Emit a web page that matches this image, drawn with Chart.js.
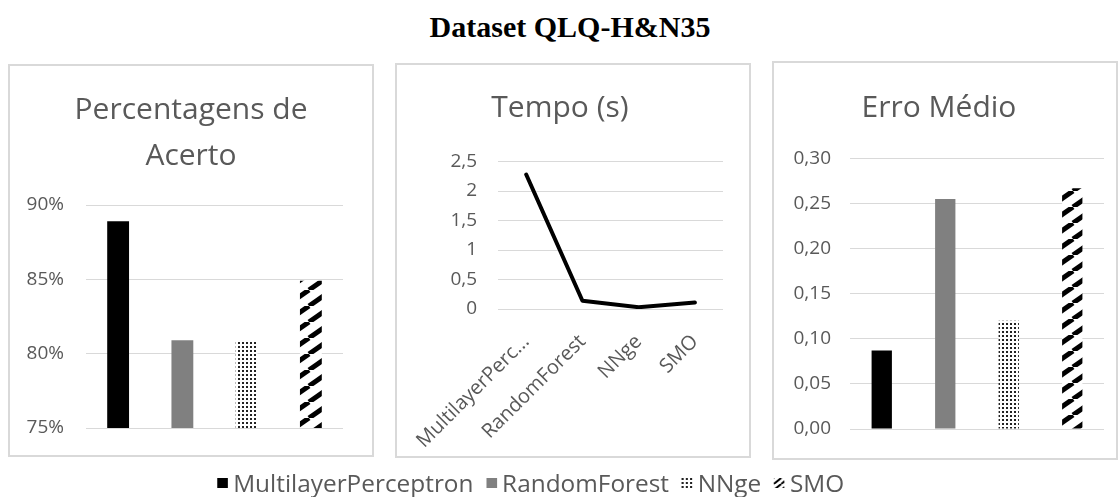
<!DOCTYPE html>
<html>
<head>
<meta charset="utf-8">
<script src="https://cdn.jsdelivr.net/npm/chart.js@4.4.1/dist/chart.umd.min.js"></script>
<style>
  html, body { margin: 0; padding: 0; background: #fff; }
  body { width: 1120px; height: 497px; position: relative; overflow: hidden; }
  #title {
    position: absolute; left: 0; top: 10px; width: 1140px; text-align: center;
    font-family: "Liberation Serif", serif; font-weight: bold; font-size: 30px; color: #000;
  }
  .panel { position: absolute; border: 2px solid #d9d9d9; }
  .panel canvas { display: block; }
  #legend {
    position: absolute; left: 0; top: 468px; width: 1062px; display: flex; justify-content: center;
  }
  #legend .row {
    display: flex; transform: scaleX(1.06); transform-origin: center;
    font-family: "Open Sans", sans-serif; font-size: 23px; color: #595959; line-height: 30px;
  }
  #legend span.item { display: flex; align-items: center; margin: 0 6px; }
  #legend canvas { margin-right: 5px; }
</style>
</head>
<body>
<div id="title">Dataset QLQ-H&amp;N35</div>
<div class="panel" style="left:8px;top:64px"><canvas id="c1" width="362" height="389"></canvas></div>
<div class="panel" style="left:395px;top:63px"><canvas id="c2" width="352" height="391"></canvas></div>
<div class="panel" style="left:772px;top:61px"><canvas id="c3" width="342" height="395"></canvas></div>
<div id="legend"><div class="row"></div></div>
<script>
const categories = ["MultilayerPerceptron", "RandomForest", "NNge", "SMO"];
const accuracy = [88.9, 80.9, 80.9, 84.9];
const timeSec = [2.28, 0.14, 0.03, 0.11];
const meanError = [0.087, 0.255, 0.12, 0.267];
const accTicks = [75, 80, 85, 90];
const timeTicks = [0, 0.5, 1, 1.5, 2, 2.5];
const errTicks = [0, 0.05, 0.1, 0.15, 0.2, 0.25, 0.3];

const FONT = "'Open Sans', sans-serif";
const TXT = "#595959";
const GRID = "#d9d9d9";

function dotPattern(ctx) {
  const c = document.createElement("canvas");
  c.width = 4; c.height = 4;
  const g = c.getContext("2d");
  g.fillStyle = "#fff"; g.fillRect(0, 0, 4, 4);
  g.fillStyle = "#222"; g.fillRect(0, 0, 2, 2);
  return ctx.createPattern(c, "repeat");
}

function stripePattern(ctx, w = 23, h = 16, lw = 5) {
  const c = document.createElement("canvas");
  c.width = w; c.height = h;
  const g = c.getContext("2d");
  g.fillStyle = "#fff"; g.fillRect(0, 0, w, h);
  g.strokeStyle = "#000"; g.lineWidth = lw;
  for (const dx of [-w, 0, w]) {
    g.beginPath(); g.moveTo(dx, h); g.lineTo(dx + w, 0); g.stroke();
  }
  return ctx.createPattern(c, "repeat");
}

function fills(ctx) {
  return ["#000000", "#808080", dotPattern(ctx), stripePattern(ctx)];
}

function yAxis(ticks, width, pad, fmt) {
  return {
    min: ticks[0], max: ticks[ticks.length - 1],
    afterBuildTicks: s => { s.ticks = ticks.map(v => ({ value: v })); },
    // fixed width, and no extra room for the end labels
    afterFit: s => { s.width = width; s.paddingTop = 0; s.paddingBottom = 0; },
    grid: { color: GRID, drawTicks: false },
    border: { display: false },
    ticks: { color: TXT, font: { family: FONT, size: 19 }, padding: pad, callback: fmt }
  };
}

// empty axes that only reserve room beside / under the plot
function spacerX(height) {
  return {
    afterFit: s => { s.height = height; },
    grid: { display: false }, border: { display: false }, ticks: { display: false }
  };
}
function spacerRight(width) {
  return {
    type: "linear", position: "right",
    afterFit: s => { s.width = width; },
    grid: { display: false }, border: { display: false }, ticks: { display: false }
  };
}

function title(text, top, bottom) {
  return {
    display: true, text, color: TXT,
    font: { family: FONT, size: 30, weight: "normal", lineHeight: 1.55 },
    padding: { top, bottom }
  };
}

Chart.defaults.animation = false;
Chart.defaults.responsive = false;

// Percentagens de Acerto
const ctx1 = document.getElementById("c1").getContext("2d");
new Chart(ctx1, {
  type: "bar",
  data: {
    labels: categories,
    datasets: [{ data: accuracy, backgroundColor: fills(ctx1), barPercentage: 0.34, categoryPercentage: 1 }]
  },
  options: {
    layout: { padding: 0 },
    plugins: { legend: { display: false }, tooltip: { enabled: false }, title: title(["Percentagens de", "Acerto"], 21, 25) },
    scales: {
      x: spacerX(27),
      y: yAxis(accTicks, 76, 22, v => v + "%"),
      yRight: spacerRight(29)
    }
  }
});

// Tempo (s)
const ctx2 = document.getElementById("c2").getContext("2d");
new Chart(ctx2, {
  type: "line",
  data: {
    labels: categories,
    datasets: [{
      data: timeSec, borderColor: "#000", borderWidth: 4, pointRadius: 0, tension: 0,
      borderJoinStyle: "round", borderCapStyle: "round", fill: false
    }]
  },
  options: {
    layout: { padding: { left: 0, right: 26, bottom: 9 } },
    plugins: { legend: { display: false }, tooltip: { enabled: false }, title: title("Tempo (s)", 20, 30) },
    scales: {
      x: {
        offset: true,
        afterFit: s => { s.height = 138; },
        grid: { display: false },
        border: { display: false },
        ticks: {
          color: TXT, font: { family: FONT, size: 20 }, padding: 13,
          minRotation: 45, maxRotation: 45, autoSkip: false,
          callback: function (v) {
            const l = this.getLabelForValue(v);
            return l.length > 16 ? l.slice(0, 14) + "..." : l;
          }
        }
      },
      y: yAxis(timeTicks, 82, 21, v => String(v).replace(".", ","))
    }
  }
});

// Erro Médio
const ctx3 = document.getElementById("c3").getContext("2d");
new Chart(ctx3, {
  type: "bar",
  data: {
    labels: categories,
    datasets: [{ data: meanError, backgroundColor: fills(ctx3), barPercentage: 0.32, categoryPercentage: 1 }]
  },
  options: {
    layout: { padding: { left: 0, right: 12, bottom: 0 } },
    plugins: { legend: { display: false }, tooltip: { enabled: false }, title: title("Erro Médio", 22, 27) },
    scales: {
      x: spacerX(29),
      y: yAxis(errTicks, 76, 19, v => v.toFixed(2).replace(".", ","))
    }
  }
});

// legend
const row = document.querySelector("#legend .row");
categories.forEach((name, i) => {
  const item = document.createElement("span");
  item.className = "item";
  const sw = document.createElement("canvas");
  sw.width = 10; sw.height = 10;
  const g = sw.getContext("2d");
  g.fillStyle = i === 3 ? stripePattern(g, 7, 6, 2) : fills(g)[i];
  g.fillRect(0, 0, 10, 10);
  item.appendChild(sw);
  item.appendChild(document.createTextNode(name));
  row.appendChild(item);
});
</script>
</body>
</html>
